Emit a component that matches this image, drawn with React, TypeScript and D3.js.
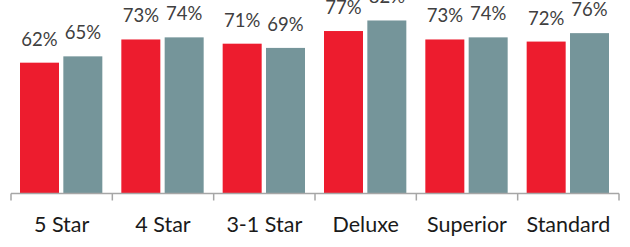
import React from 'react';
import * as d3 from 'd3';

const categories = ['5 Star', '4 Star', '3-1 Star', 'Deluxe', 'Superior', 'Standard'];
const seriesA = [62, 73, 71, 77, 73, 72];
const seriesB = [65, 74, 69, 82, 74, 76];

const WIDTH = 630;
const HEIGHT = 247;
const RED = '#ED1C2E';
const GREY = '#75959A';
const FONT = 'Lato, "Open Sans", sans-serif';

export default function App() {
  const axisY = 193.5;
  const left = 11;
  const right = 619;

  const x0 = d3.scaleBand<string>()
    .domain(categories)
    .range([left, right])
    .paddingInner(0)
    .paddingOuter(0);

  const x1 = d3.scaleBand<string>()
    .domain(['a', 'b'])
    .range([9, x0.bandwidth() - 10])
    .paddingInner(0.1);

  // 0..100% maps onto the plot height
  const y = d3.scaleLinear().domain([0, 100]).range([axisY, axisY - 211]);

  const series = [
    { key: 'a', values: seriesA, color: RED },
    { key: 'b', values: seriesB, color: GREY },
  ];

  const ticks = [...categories.map(c => x0(c) as number), right];

  return (
    <div style={{ position: 'absolute', left: 0, top: 0 }}>
      <svg width={WIDTH} height={HEIGHT} style={{ display: 'block' }}>
        <rect width={WIDTH} height={HEIGHT} fill="#fff" />
        {categories.map((c, i) => (
          <g key={c} transform={`translate(${x0(c)},0)`}>
            {series.map(s => {
              const v = s.values[i];
              const bx = x1(s.key) as number;
              const bw = x1.bandwidth();
              return (
                <g key={s.key}>
                  <rect x={bx} y={y(v)} width={bw} height={axisY - y(v)} fill={s.color} />
                  <text
                    x={bx + bw / 2}
                    y={y(v) - 17}
                    textAnchor="middle"
                    fontFamily={FONT}
                    fontSize={18.5}
                    fill="#404040"
                  >
                    {v}%
                  </text>
                </g>
              );
            })}
            <text
              x={x0.bandwidth() / 2}
              y={232}
              textAnchor="middle"
              fontFamily={FONT}
              fontSize={21.5}
              fill="#1a1a1a"
            >
              {c}
            </text>
          </g>
        ))}
        <line x1={left} x2={right} y1={axisY} y2={axisY} stroke="#A6A6A6" strokeWidth={1.5} />
        {ticks.map((t, i) => (
          <line key={i} x1={t} x2={t} y1={axisY} y2={axisY + 7} stroke="#A6A6A6" strokeWidth={1.5} />
        ))}
      </svg>
    </div>
  );
}
